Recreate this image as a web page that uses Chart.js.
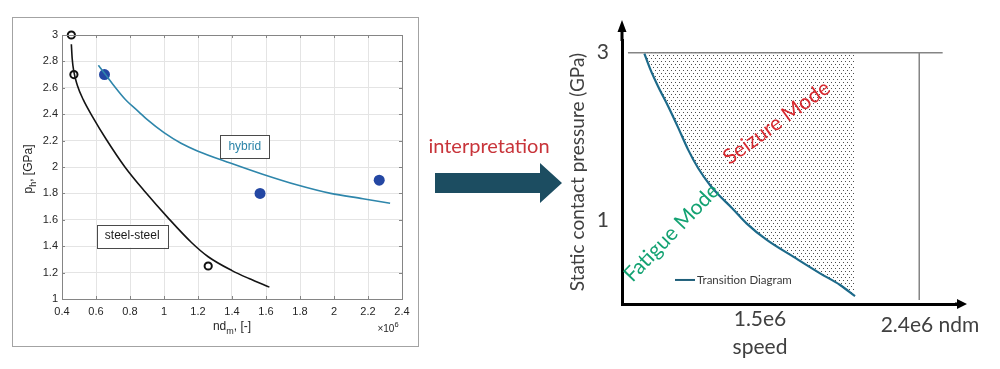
<!DOCTYPE html>
<html>
<head>
<meta charset="utf-8">
<title>Transition diagram interpretation</title>
<script src="https://cdn.jsdelivr.net/npm/chart.js@4.4.1/dist/chart.umd.min.js"></script>
<style>
html, body { margin: 0; padding: 0; background: #fff; }
#page { position: relative; width: 1000px; height: 369px; overflow: hidden; }
#matlabFrame { position: absolute; left: 12px; top: 17px; width: 405px; height: 328px; border: 1px solid #a3a3a3; }
#leftChart { position: absolute; left: 0; top: 0; }
#rightChart { position: absolute; left: 560px; top: 0; }
#bridge { position: absolute; left: 420px; top: 120px; }
</style>
</head>
<body>
<div id="page">
  <div id="matlabFrame"></div>
  <canvas id="leftChart" width="430" height="369"></canvas>
  <svg id="bridge" width="150" height="100" xmlns="http://www.w3.org/2000/svg">
    <text x="69" y="33" text-anchor="middle" font-family="Lato" font-size="20" fill="#c8343a">interpretation</text>
    <polygon points="15,53 120,53 120,43 142,63 120,83 120,73 15,73" fill="#1c4d61"/>
  </svg>
  <canvas id="rightChart" width="440" height="369"></canvas>
</div>
<script>
// ---- left plot (measured), speed in 1e6 ndm, pressure in GPa ----
var STEEL_FIT_X = [0.455, 0.46, 0.47, 0.49, 0.525, 0.58, 0.66, 0.77, 0.89, 1.02, 1.16, 1.26, 1.4, 1.5, 1.62];
var STEEL_FIT_Y = [2.93, 2.82, 2.72, 2.62, 2.51, 2.38, 2.21, 2.00, 1.81, 1.62, 1.43, 1.32, 1.215, 1.155, 1.09];
var HYBRID_FIT_X = [0.614, 0.65, 0.7, 0.77, 0.85, 0.9, 1.0, 1.1, 1.2, 1.39, 1.58, 1.78, 1.98, 2.17, 2.33];
var HYBRID_FIT_Y = [2.77, 2.71, 2.625, 2.515, 2.42, 2.36, 2.26, 2.18, 2.12, 2.03, 1.945, 1.865, 1.80, 1.76, 1.725];
var STEEL_TEST_X = [0.455, 0.47, 1.26];
var STEEL_TEST_Y = [3.0, 2.7, 1.25];
var HYBRID_TEST_X = [0.65, 1.565, 2.266];
var HYBRID_TEST_Y = [2.7, 1.8, 1.9];

// ---- right sketch (interpretation) ----
var TRANSITION_X = [0.888, 0.918, 0.962, 1.015, 1.068, 1.120, 1.173, 1.235, 1.278, 1.350, 1.430, 1.536, 1.676, 1.818, 1.924, 2.003];
var TRANSITION_Y = [2.99, 2.81, 2.59, 2.355, 2.10, 1.84, 1.62, 1.42, 1.31, 1.15, 0.96, 0.765, 0.565, 0.366, 0.227, 0.095];
var PRESSURE_CAP = 3;          // GPa, horizontal limit line
var CAP_LINE_X = [0.801, 2.467];
var SPEED_LIMIT_X = 2.343;     // vertical limit line
var SPEED_LIMIT_Y = [3, 0.048];
var SKETCH_Y_TICKS = [1, 3];
var SKETCH_X_TICKS = [1.5, 2.4];
var SKETCH_X_LABELS = [['1.5e6', 'speed'], '2.4e6 ndm'];


function zipPoints(xs, ys) {
    var pts = [];
    for (var i = 0; i < xs.length; ++i) pts.push({x: xs[i], y: ys[i]});
    return pts;
}

function oneDecimal(v) {
    return String(Math.round(v * 10) / 10);
}

// draws text pieces, some of them lowered (sub) or raised (sup)
function drawParts(ctx, parts, cx, cy, size) {
    var w = 0;
    parts.forEach(function (p) {
        ctx.font = (p.sub || p.sup ? size * 0.75 : size) + 'px "Liberation Sans"';
        p.w = ctx.measureText(p.t).width;
        w += p.w;
    });
    var x = cx - w / 2;
    parts.forEach(function (p) {
        ctx.font = (p.sub || p.sup ? size * 0.75 : size) + 'px "Liberation Sans"';
        var dy = p.sub ? size * 0.35 : (p.sup ? -size * 0.45 : 0);
        ctx.fillText(p.t, x, cy + dy);
        x += p.w;
    });
}


var AXIS_GRAY = '#858585';

var matlabDecor = {
    id: 'matlabDecor',
    afterDatasetsDraw: function (chart) {
        var ctx = chart.ctx, a = chart.chartArea;
        var xs = chart.scales.x, ys = chart.scales.y;
        ctx.save();

        // box on top and right, inward tick marks
        ctx.strokeStyle = AXIS_GRAY;
        ctx.lineWidth = 1;
        ctx.beginPath();
        ctx.moveTo(a.left, a.top + 0.5); ctx.lineTo(a.right + 0.5, a.top + 0.5); ctx.lineTo(a.right + 0.5, a.bottom);
        xs.ticks.forEach(function (t) {
            var px = Math.round(xs.getPixelForValue(t.value)) + 0.5;
            ctx.moveTo(px, a.bottom); ctx.lineTo(px, a.bottom - 3);
            ctx.moveTo(px, a.top); ctx.lineTo(px, a.top + 3);
        });
        ys.ticks.forEach(function (t) {
            var py = Math.round(ys.getPixelForValue(t.value)) + 0.5;
            ctx.moveTo(a.left, py); ctx.lineTo(a.left + 3, py);
            ctx.moveTo(a.right, py); ctx.lineTo(a.right - 3, py);
        });
        ctx.stroke();

        // text boxes
        ctx.font = '12px "Liberation Sans"';
        ctx.textBaseline = 'middle';
        ctx.textAlign = 'center';
        BOX_NOTES.forEach(function (n) {
            var cx = xs.getPixelForValue(n.x), cy = ys.getPixelForValue(n.y);
            var w = ctx.measureText(n.text).width + 16, h = 23;
            ctx.fillStyle = '#fff';
            ctx.fillRect(cx - w / 2, cy - h / 2, w, h);
            ctx.strokeStyle = '#4a4a4a';
            ctx.strokeRect(Math.round(cx - w / 2) + 0.5, Math.round(cy - h / 2) + 0.5, Math.round(w), h);
            ctx.fillStyle = n.color;
            ctx.fillText(n.text, cx, cy);
        });

        // axis titles with subscripts
        ctx.fillStyle = '#262626';
        ctx.textAlign = 'left';
        drawParts(ctx, [{t: 'nd'}, {t: 'm', sub: true}, {t: ', [-]'}], (a.left + a.right) / 2, a.bottom + 28, 12);
        ctx.save();
        ctx.translate(a.left - 33, (a.top + a.bottom) / 2 + 2);
        ctx.rotate(-Math.PI / 2);
        drawParts(ctx, [{t: 'p'}, {t: 'h', sub: true}, {t: ', [GPa]'}], 0, 0, 12);
        ctx.restore();
        drawParts(ctx, [{t: '\u00d710'}, {t: '6', sup: true}], a.right - 14, a.bottom + 30, 10);
        ctx.restore();
    }
};

var BOX_NOTES = [
    {text: 'hybrid', x: 1.475, y: 2.154, color: '#2b84a8'},
    {text: 'steel-steel', x: 0.813, y: 1.477, color: '#1a1a1a'}
];

var leftTicks = {color: '#262626', font: {family: 'Liberation Sans', size: 11}};

new Chart(document.getElementById('leftChart'), {
    type: 'scatter',
    data: {
        datasets: [
            {
                data: zipPoints(STEEL_FIT_X, STEEL_FIT_Y),
                showLine: true, borderColor: '#141414', borderWidth: 1.6,
                pointRadius: 0, cubicInterpolationMode: 'monotone'
            },
            {
                data: zipPoints(HYBRID_FIT_X, HYBRID_FIT_Y),
                showLine: true, borderColor: '#2e86ab', borderWidth: 1.6,
                pointRadius: 0, cubicInterpolationMode: 'monotone'
            },
            {
                data: zipPoints(STEEL_TEST_X, STEEL_TEST_Y),
                pointRadius: 3.6, borderWidth: 2, borderColor: '#111',
                backgroundColor: '#fff', clip: false
            },
            {
                data: zipPoints(HYBRID_TEST_X, HYBRID_TEST_Y),
                pointRadius: 5.5, borderWidth: 0, backgroundColor: '#2447a3', clip: false
            },
            {
                data: zipPoints(HYBRID_TEST_X, HYBRID_TEST_Y),
                pointRadius: 1.1, borderWidth: 0, backgroundColor: '#e8eefa', clip: false
            }
        ]
    },
    options: {
        responsive: false,
        animation: false,
        events: [],
        layout: {padding: {left: 0, right: 28, top: 35, bottom: 0}},
        plugins: {legend: {display: false}, tooltip: {enabled: false}},
        scales: {
            x: {
                type: 'linear', min: 0.4, max: 2.4,
                ticks: Object.assign({stepSize: 0.2, padding: 6, maxRotation: 0, callback: oneDecimal}, leftTicks),
                grid: {color: '#e4e4e4', drawTicks: false},
                border: {color: AXIS_GRAY},
                afterFit: function (s) { s.height = 70; }
            },
            y: {
                type: 'linear', min: 1, max: 3,
                ticks: Object.assign({stepSize: 0.2, padding: 4, callback: oneDecimal}, leftTicks),
                grid: {color: '#e4e4e4', drawTicks: false},
                border: {color: AXIS_GRAY},
                afterFit: function (s) { s.width = 62; }
            }
        }
    },
    plugins: [matlabDecor]
});


// ---- right sketch ----
function dotPattern() {
    var tile = document.createElement('canvas');
    tile.width = 4; tile.height = 6;
    var g = tile.getContext('2d');
    g.fillStyle = '#4d4d4d';
    g.fillRect(1, 1, 1, 1);
    g.fillRect(3, 4, 1, 1);
    return g.createPattern(tile, 'repeat');
}

var SKETCH_NOTES = [
    {text: 'Fatigue Mode', x: 1.032, y: 0.85, angle: -46, color: '#13a272'},
    {text: 'Seizure Mode', x: 1.588, y: 2.164, angle: -36, color: '#d8292f'}
];
var LEGEND_AT = {x1: 1.05, x2: 1.156, y: 0.287, text: 'Transition Diagram'};

var sketchDecor = {
    id: 'sketchDecor',
    afterDraw: function (chart) {
        var ctx = chart.ctx, a = chart.chartArea;
        var xs = chart.scales.x, ys = chart.scales.y;
        ctx.save();

        // axis arrows
        ctx.fillStyle = '#000';
        ctx.strokeStyle = '#000';
        ctx.lineWidth = 3;
        ctx.beginPath();
        ctx.moveTo(a.left, a.top + 1); ctx.lineTo(a.left, a.top - 10);
        ctx.moveTo(a.right - 1, a.bottom); ctx.lineTo(a.right + 3, a.bottom);
        ctx.stroke();
        ctx.beginPath();
        ctx.moveTo(a.left, a.top - 20); ctx.lineTo(a.left - 4.5, a.top - 8); ctx.lineTo(a.left + 4.5, a.top - 8);
        ctx.closePath();
        ctx.moveTo(a.right + 11, a.bottom); ctx.lineTo(a.right + 1, a.bottom - 5); ctx.lineTo(a.right + 1, a.bottom + 5);
        ctx.closePath();
        ctx.fill();

        // legend
        var ly = ys.getPixelForValue(LEGEND_AT.y);
        ctx.strokeStyle = '#1f5f7a';
        ctx.lineWidth = 2;
        ctx.beginPath();
        ctx.moveTo(xs.getPixelForValue(LEGEND_AT.x1), ly);
        ctx.lineTo(xs.getPixelForValue(LEGEND_AT.x2), ly);
        ctx.stroke();
        ctx.fillStyle = '#3a3a3a';
        ctx.font = '11.5px Lato';
        ctx.textBaseline = 'middle';
        ctx.textAlign = 'left';
        ctx.fillText(LEGEND_AT.text, xs.getPixelForValue(LEGEND_AT.x2) + 2, ly);

        // rotated mode labels
        ctx.font = '21px Lato';
        ctx.textAlign = 'center';
        SKETCH_NOTES.forEach(function (n) {
            ctx.save();
            ctx.translate(xs.getPixelForValue(n.x), ys.getPixelForValue(n.y));
            ctx.rotate(n.angle * Math.PI / 180);
            ctx.fillStyle = n.color;
            ctx.fillText(n.text, 0, 0);
            ctx.restore();
        });
        ctx.restore();
    }
};

var sketchFont = {family: 'Lato', size: 21};

new Chart(document.getElementById('rightChart'), {
    type: 'scatter',
    data: {
        datasets: [
            {
                data: zipPoints(TRANSITION_X, TRANSITION_Y),
                showLine: true, borderColor: '#1d6a8a', borderWidth: 2.2,
                pointRadius: 0, cubicInterpolationMode: 'monotone',
                fill: {value: PRESSURE_CAP}, backgroundColor: dotPattern()
            },
            {
                data: zipPoints(CAP_LINE_X, [PRESSURE_CAP, PRESSURE_CAP]),
                showLine: true, borderColor: '#858585', borderWidth: 1.5, pointRadius: 0
            },
            {
                data: zipPoints([SPEED_LIMIT_X, SPEED_LIMIT_X], SPEED_LIMIT_Y),
                showLine: true, borderColor: '#858585', borderWidth: 1.5, pointRadius: 0
            }
        ]
    },
    options: {
        responsive: false,
        animation: false,
        events: [],
        layout: {padding: {left: 0, right: 44, top: 40, bottom: 0}},
        plugins: {legend: {display: false}, tooltip: {enabled: false}},
        scales: {
            x: {
                type: 'linear', min: 0.7695, max: 2.5376,
                afterBuildTicks: function (s) { s.ticks = SKETCH_X_TICKS.map(function (v) { return {value: v}; }); },
                ticks: {
                    autoSkip: false, maxRotation: 0, padding: 1, color: '#404040',
                    font: function (c) { return {family: 'Lato', size: 21, lineHeight: c.index === 1 ? 40 / 21 : 28 / 21}; },
                    callback: function (v, i) { return SKETCH_X_LABELS[i]; }
                },
                grid: {display: false, drawTicks: false},
                border: {color: '#000', width: 3},
                afterFit: function (s) { s.height = 65; }
            },
            y: {
                type: 'linear', min: 0, max: 3.1516,
                afterBuildTicks: function (s) { s.ticks = SKETCH_Y_TICKS.map(function (v) { return {value: v}; }); },
                ticks: {padding: 13, color: '#404040', font: sketchFont, callback: function (v) { return String(v); }},
                grid: {display: false, drawTicks: false},
                border: {color: '#000', width: 3},
                title: {
                    display: true, text: 'Static contact pressure (GPa)', color: '#404040',
                    font: {family: 'Lato', size: 19, lineHeight: 1.2}, padding: {top: 6, bottom: 0}
                },
                afterFit: function (s) { s.width = 62; }
            }
        }
    },
    plugins: [sketchDecor]
});
</script>
</body>
</html>
